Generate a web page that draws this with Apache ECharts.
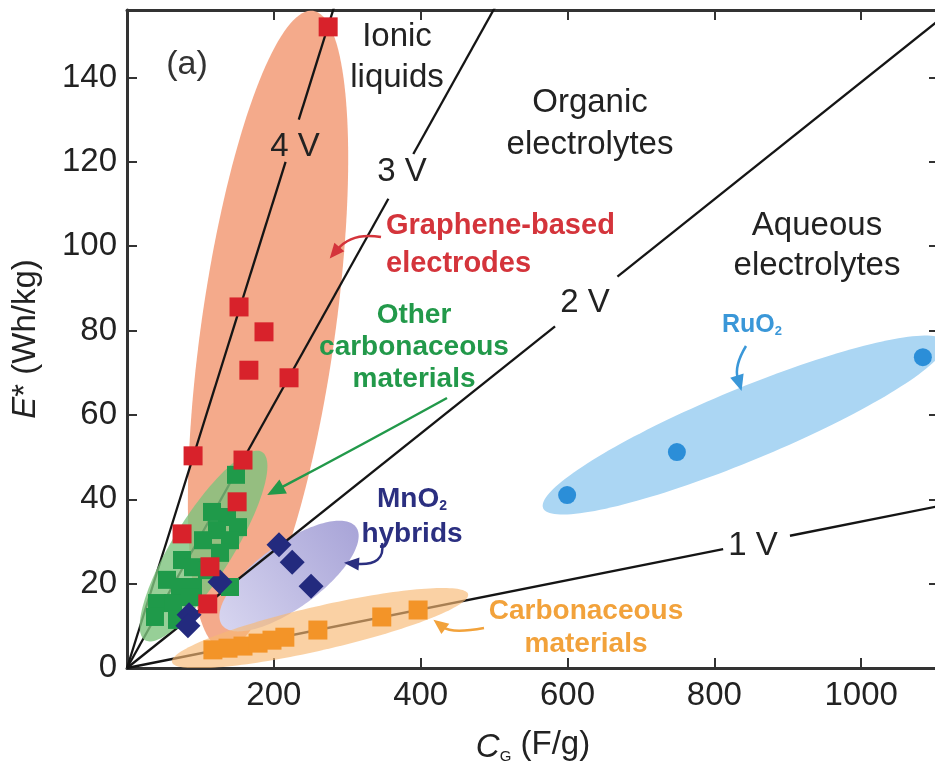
<!DOCTYPE html>
<html>
<head>
<meta charset="utf-8">
<script src="https://cdn.jsdelivr.net/npm/echarts@6/dist/echarts.min.js"></script>
<style>
  html, body { margin: 0; padding: 0; background: #fff; }
  #chart { width: 935px; height: 764px; }
</style>
</head>
<body>
<div id="chart"></div>
<script>
// Specific capacitance C_G (F/g) vs. energy density E* (Wh/kg)

// Graphene-based electrodes
const grapheneC = [274, 152.6, 186.6, 166, 220.7, 90, 158, 150, 75, 113, 110];
const grapheneE = [152, 85.6, 79.7, 70.6, 68.8, 50.3, 49.3, 39.4, 31.8, 24, 15.2];

// Other carbonaceous materials
const otherCarbonC = [148.5, 115.8, 136.2, 151.2, 122.6, 103.5, 140.3, 126.7, 74.9, 89.9,
                      109, 54.5, 72.2, 89.9, 140.3, 40.9, 62.7, 85.8, 38.1, 68.1];
const otherCarbonE = [45.8, 37, 35.8, 33.4, 32.7, 30.3, 30.3, 27.3, 25.6, 23.9,
                      23.2, 20.9, 19.2, 19.2, 19.2, 15.4, 15.4, 16.8, 12.1, 11.4];

// MnO2 hybrids
const mno2C = [207, 225, 250.7, 126.7, 84.5, 83];
const mno2E = [29.2, 25.1, 19.4, 20.4, 12.6, 10];

// Carbonaceous materials
const carbonC = [117, 137.6, 158, 178.5, 197.5, 215, 260, 347, 396.5];
const carbonE = [4.3, 4.7, 5.2, 5.9, 6.6, 7.3, 9.0, 12.1, 13.75];

// RuO2
const ruo2C = [599.5, 749, 1084];
const ruo2E = [41, 51.2, 73.7];

// Shaded regions: two tips of each band, [C1, E1, C2, E2]
const grapheneBand = [253.4, 155.8, 130.8, 4.5];
const otherCarbonBand = [24.5, 6.6, 184, 51.2];
const mno2Band = [129.4, 10.2, 312, 33.4];
const carbonBand = [61.3, 1.4, 464.6, 17.5];
const ruo2Band = [566.8, 37.9, 1114, 77.3];

// Cell-voltage guide lines, E* = C_G * V^2 / (8 * 3.6)
const cellVoltages = [1, 2, 3, 4];
// C_G interval on each line left open for its "n V" label
const voltageLabelGaps = [[812, 903], [583, 668], [356, 390], [216, 234]];
const lineEndC = 1200;

const xTicks = { min: 0, max: 1106, interval: 200 };
const yTicks = { min: 0, max: 156, interval: 20 };

const FONT = "'Liberation Sans', Arial, Helvetica, sans-serif";

const zip = (xs, ys) => xs.map((x, i) => [x, ys[i]]);
const energyAt = (c, v) => c * v * v / 28.8;

const chart = echarts.init(document.getElementById('chart'), null, { renderer: 'canvas' });

function bandSeries(name, tips, halfWidth, fill, z) {
  return {
    type: 'custom', name, z, silent: true, clip: true,
    encode: { x: [0, 2], y: [1, 3] },
    data: [tips],
    renderItem(params, api) {
      const p1 = api.coord([api.value(0), api.value(1)]);
      const p2 = api.coord([api.value(2), api.value(3)]);
      const cx = (p1[0] + p2[0]) / 2, cy = (p1[1] + p2[1]) / 2;
      const a = Math.hypot(p2[0] - p1[0], p2[1] - p1[1]) / 2;
      const ang = Math.atan2(p2[1] - p1[1], p2[0] - p1[0]);
      const pts = [];
      for (let k = 0; k < 160; k++) {
        const t = k / 160 * Math.PI * 2;
        const u = a * Math.cos(t), v = halfWidth * Math.sin(t);
        pts.push([cx + u * Math.cos(ang) - v * Math.sin(ang),
                  cy + u * Math.sin(ang) + v * Math.cos(ang)]);
      }
      let f = fill;
      if (Array.isArray(fill)) {
        f = new echarts.graphic.LinearGradient(p1[0], p1[1], p2[0], p2[1],
          [{ offset: 0, color: fill[0] }, { offset: 1, color: fill[1] }], true);
      }
      return { type: 'polygon', shape: { points: pts }, style: { fill: f } };
    }
  };
}

const lineSeries = [];
cellVoltages.forEach((v, i) => {
  const [g0, g1] = voltageLabelGaps[i];
  const segs = [[[0, 0], [g0, energyAt(g0, v)]], [[g1, energyAt(g1, v)], [lineEndC, energyAt(lineEndC, v)]]];
  segs.forEach(seg => lineSeries.push({
    type: 'line', data: seg, symbol: 'none', silent: true, clip: true, z: 3,
    lineStyle: { color: '#151515', width: 2.3 }
  }));
});

function scatter(name, data, symbol, size, color, z) {
  return {
    type: 'scatter', name, data, symbol, symbolSize: size, z, silent: true,
    itemStyle: { color, opacity: 1 }
  };
}

const series = [
  bandSeries('graphene-band', grapheneBand, 67, '#f4aa8b', 1),
  bandSeries('mno2-band', mno2Band, 32, ['#d6d4ef', '#a9a5d8'], 1),
  bandSeries('ruo2-band', ruo2Band, 36, '#abd6f3', 1),
  ...lineSeries,
  bandSeries('other-band', otherCarbonBand, 30, 'rgba(125,195,125,0.8)', 4),
  bandSeries('carbon-band', carbonBand, 22, 'rgba(248,184,115,0.65)', 4),
  scatter('Carbonaceous materials', zip(carbonC, carbonE), 'rect', 19, '#f39428', 6),
  scatter('Other carbonaceous materials', zip(otherCarbonC, otherCarbonE), 'rect', 18, '#1f9a4a', 6),
  scatter('MnO2 hybrids', zip(mno2C, mno2E), 'diamond', 25, '#232a7e', 7),
  scatter('Graphene-based electrodes', zip(grapheneC, grapheneE), 'rect', 19, '#d8222b', 8),
  scatter('RuO2', zip(ruo2C, ruo2E), 'circle', 18, '#2b8ed8', 8)
];

const axisLine = { show: true, onZero: false, lineStyle: { color: '#333', width: 3 } };
const axisTick = { show: true, inside: true, length: 10, lineStyle: { color: '#333', width: 2 } };
const plainNumber = v => String(v);

// Annotation text and arrows
function label(x, y, text, size, color, weight, align, lineHeight, rich) {
  return {
    type: 'text', x, y, z: 100, silent: true,
    style: {
      text, fill: color, fontSize: size, fontFamily: FONT, fontWeight: weight || 'normal',
      align: align || 'center', verticalAlign: 'middle', lineHeight: lineHeight || size * 1.2,
      rich: rich || undefined
    }
  };
}

function arrow(p0, cp, p1, color, width, head) {
  const dx = p1[0] - cp[0], dy = p1[1] - cp[1];
  const L = Math.hypot(dx, dy) || 1;
  const ux = dx / L, uy = dy / L;
  const hl = head || 14, hw = hl * 0.5;
  const base = [p1[0] - ux * hl, p1[1] - uy * hl];
  const tip = [p1[0] + ux * 2, p1[1] + uy * 2];
  return [
    { type: 'bezierCurve', z: 100, silent: true,
      shape: { x1: p0[0], y1: p0[1], cpx1: cp[0], cpy1: cp[1], x2: base[0] + ux * 3, y2: base[1] + uy * 3 },
      style: { stroke: color, lineWidth: width, fill: null } },
    { type: 'polygon', z: 100, silent: true,
      shape: { points: [tip, [base[0] - uy * hw, base[1] + ux * hw], [base[0] + uy * hw, base[1] - ux * hw]] },
      style: { fill: color } }
  ];
}

const subRich = (size, color) => ({
  m: { fontSize: size, fontWeight: 'bold', fontFamily: FONT, fill: color, color, verticalAlign: 'bottom', lineHeight: size + 4 },
  s: { fontSize: Math.round(size * 0.5), fontWeight: 'bold', fontFamily: FONT, fill: color, color, verticalAlign: 'bottom', lineHeight: Math.round(size * 0.5) + 2 }
});

const RED = '#d4343b', GREEN = '#22994a', NAVY = '#2b2f80', ORANGE = '#f2a23b', BLUE = '#3a97d8';

const graphic = [
  label(187, 65, '(a)', 34, '#333'),
  label(397, 57, 'Ionic\nliquids', 33, '#222', 'normal', 'center', 41),
  label(590, 124, 'Organic\nelectrolytes', 33, '#222', 'normal', 'center', 42),
  label(817, 246, 'Aqueous\nelectrolytes', 33, '#222', 'normal', 'center', 40),
  label(295, 147, '4 V', 33, '#222'),
  label(402, 172, '3 V', 33, '#222'),
  label(585, 303, '2 V', 33, '#222'),
  label(753, 546, '1 V', 33, '#222'),
  label(386, 245, 'Graphene-based\nelectrodes', 29, RED, 'bold', 'left', 38),
  label(414, 347, 'Other\ncarbonaceous\nmaterials', 28, GREEN, 'bold', 'center', 32),
  label(412, 497, '{m|MnO}{s|2}', 28, NAVY, 'bold', 'center', 32, subRich(28, NAVY)),
  label(412, 534, 'hybrids', 28, NAVY, 'bold'),
  label(586, 628, 'Carbonaceous\nmaterials', 28, ORANGE, 'bold', 'center', 33),
  label(752, 323, '{m|RuO}{s|2}', 25, BLUE, 'bold', 'center', 28, subRich(25, BLUE)),
  ...arrow([381, 237], [352, 232], [331, 257], RED, 2.5, 13),
  ...arrow([447, 398], [360, 446], [269, 494], GREEN, 2.5, 16),
  ...arrow([382, 543], [386, 566], [346, 563], NAVY, 2.5, 13),
  ...arrow([484, 628], [452, 634], [435, 621], ORANGE, 2.5, 13),
  ...arrow([746, 346], [734, 366], [741, 389], BLUE, 2.5, 14)
];

const option = {
  backgroundColor: '#fff',
  animation: false,
  grid: { left: 127, top: 10, width: 812, height: 658, containLabel: false, outerBoundsMode: 'none' },
  xAxis: [
    {
      type: 'value', position: 'bottom', min: xTicks.min, max: xTicks.max, interval: xTicks.interval,
      axisLine, axisTick, splitLine: { show: false },
      axisLabel: { fontSize: 33, color: '#222', fontFamily: FONT, margin: 11, showMinLabel: false, showMaxLabel: false, formatter: plainNumber },
      name: '{i|C}{s|G} (F/g)', nameLocation: 'middle', nameGap: 58,
      nameTextStyle: {
        fontSize: 33, color: '#222', fontFamily: FONT,
        rich: {
          i: { fontSize: 33, fontStyle: 'italic', fontFamily: FONT, color: '#222', verticalAlign: 'bottom', lineHeight: 38 },
          s: { fontSize: 15, fontFamily: FONT, color: '#222', verticalAlign: 'bottom', lineHeight: 15 }
        }
      }
    },
    {
      type: 'value', position: 'top', min: xTicks.min, max: xTicks.max, interval: xTicks.interval,
      axisLine, axisTick, axisLabel: { show: false }, splitLine: { show: false }
    }
  ],
  yAxis: [
    {
      type: 'value', position: 'left', min: yTicks.min, max: yTicks.max, interval: yTicks.interval,
      axisLine, axisTick, splitLine: { show: false },
      axisLabel: { fontSize: 33, color: '#222', fontFamily: FONT, margin: 10, showMaxLabel: false, formatter: plainNumber },
      name: '{i|E}* (Wh/kg)', nameLocation: 'middle', nameGap: 85, nameRotate: 90,
      nameTextStyle: {
        fontSize: 33, color: '#222', fontFamily: FONT,
        rich: { i: { fontSize: 33, fontStyle: 'italic', fontFamily: FONT, color: '#222' } }
      }
    },
    {
      type: 'value', position: 'right', min: yTicks.min, max: yTicks.max, interval: yTicks.interval,
      axisLine, axisTick, axisLabel: { show: false }, splitLine: { show: false }
    }
  ],
  series,
  graphic
};

chart.setOption(option);
</script>
</body>
</html>
